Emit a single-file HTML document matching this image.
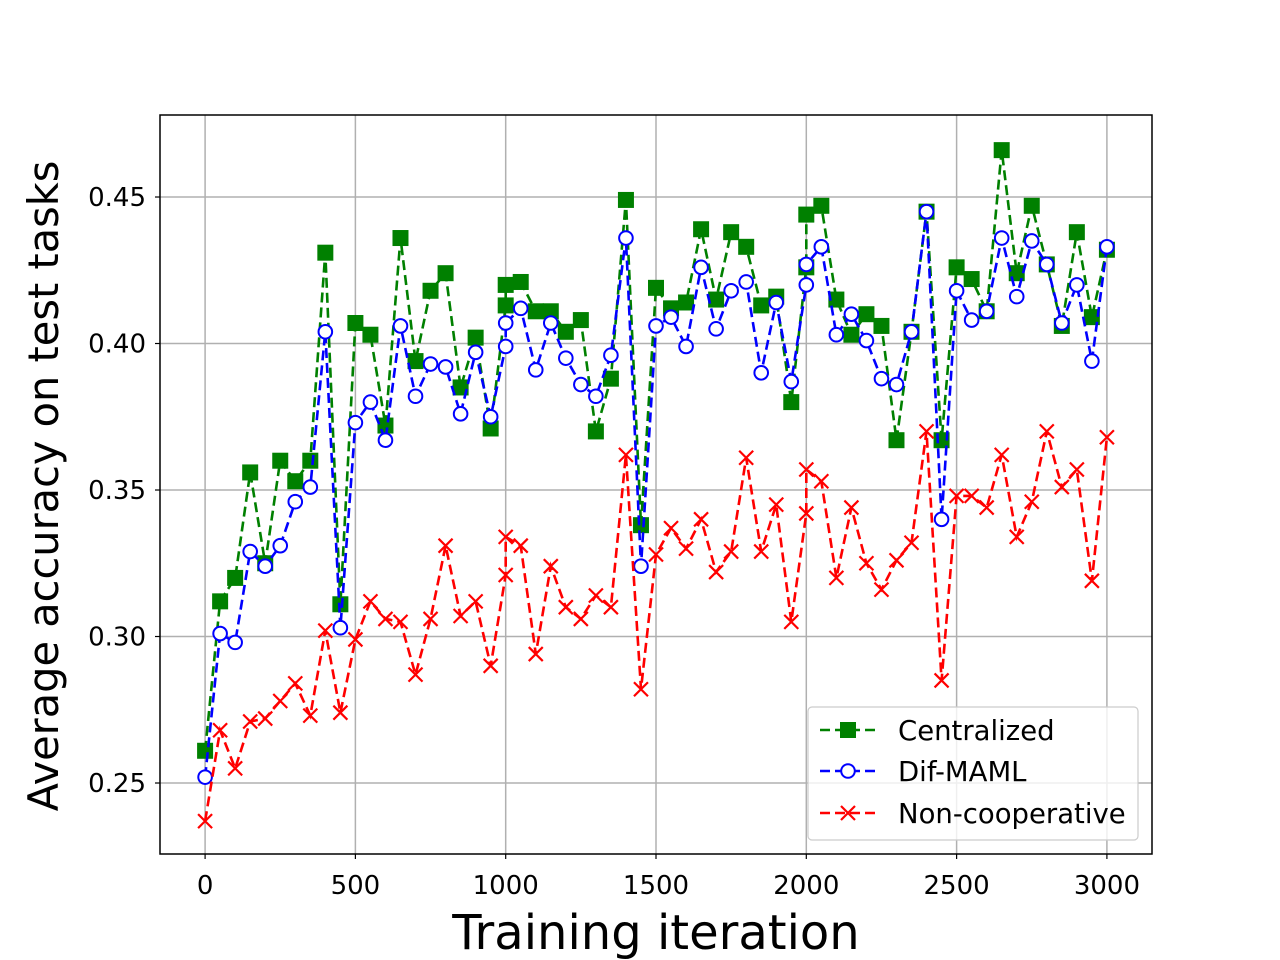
<!DOCTYPE html>
<html><head><meta charset="utf-8"><style>
body{margin:0;background:#fff;}
svg{display:block;font-family:"DejaVu Sans","Liberation Sans",sans-serif;}
</style></head><body>
<svg id="chart" width="1280" height="960" viewBox="0 0 1280 960" xmlns="http://www.w3.org/2000/svg"></svg>
<script>
const iters = [0,50,100,150,200,250,300,350,400,450,500,550,600,650,700,750,800,850,900,950,1000,1000,1050,1100,1150,1200,1250,1300,1350,1400,1450,1500,1550,1600,1650,1700,1750,1800,1850,1900,1950,2000,2000,2050,2100,2150,2200,2250,2300,2350,2400,2450,2500,2550,2600,2650,2700,2750,2800,2850,2900,2950,3000];
const centralized = [0.261,0.312,0.320,0.356,0.325,0.360,0.353,0.360,0.431,0.311,0.407,0.403,0.372,0.436,0.394,0.418,0.424,0.385,0.402,0.371,0.413,0.420,0.421,0.411,0.411,0.404,0.408,0.370,0.388,0.449,0.338,0.419,0.412,0.414,0.439,0.415,0.438,0.433,0.413,0.416,0.380,0.426,0.444,0.447,0.415,0.403,0.410,0.406,0.367,0.404,0.445,0.367,0.426,0.422,0.411,0.466,0.424,0.447,0.427,0.406,0.438,0.409,0.432];
const difMaml = [0.252,0.301,0.298,0.329,0.324,0.331,0.346,0.351,0.404,0.303,0.373,0.380,0.367,0.406,0.382,0.393,0.392,0.376,0.397,0.375,0.399,0.407,0.412,0.391,0.407,0.395,0.386,0.382,0.396,0.436,0.324,0.406,0.409,0.399,0.426,0.405,0.418,0.421,0.390,0.414,0.387,0.420,0.427,0.433,0.403,0.410,0.401,0.388,0.386,0.404,0.445,0.340,0.418,0.408,0.411,0.436,0.416,0.435,0.427,0.407,0.420,0.394,0.433];
const nonCoop = [0.237,0.268,0.255,0.271,0.272,0.278,0.284,0.273,0.302,0.274,0.299,0.312,0.306,0.305,0.287,0.306,0.331,0.307,0.312,0.290,0.321,0.334,0.331,0.294,0.324,0.310,0.306,0.314,0.310,0.362,0.282,0.328,0.337,0.330,0.340,0.322,0.329,0.361,0.329,0.345,0.305,0.342,0.357,0.353,0.320,0.344,0.325,0.316,0.326,0.332,0.370,0.285,0.348,0.348,0.344,0.362,0.334,0.346,0.370,0.351,0.357,0.319,0.368];
const xTicks = [0,500,1000,1500,2000,2500,3000];
const yTicks = [0.25,0.30,0.35,0.40,0.45];
const yTickLabels = ["0.25","0.30","0.35","0.40","0.45"];

const L=160,R=1152,T=115,B=854;
const X0=-150,X1=3150,Y0=0.22577,Y1=0.47799;
const sx=v=>L+(v-X0)/(X1-X0)*(R-L);
const sy=v=>B-(v-Y0)/(Y1-Y0)*(B-T);
const svg=document.getElementById('chart');
const NS='http://www.w3.org/2000/svg';
function mk(tag,attrs,parent){const e=document.createElementNS(NS,tag);for(const k in attrs)e.setAttribute(k,attrs[k]);(parent||svg).appendChild(e);return e;}

xTicks.forEach(t=>{const l=mk('line',{x1:sx(t),x2:sx(t),y1:T,y2:B,stroke:'#b0b0b0','stroke-width':1.5});


const tk=mk('line',{x1:sx(t),x2:sx(t),y1:B,y2:B+5,stroke:'#000','stroke-width':1.2});


const tx=mk('text',{x:sx(t),y:B+40,'text-anchor':'middle','font-size':26});tx.textContent=t;

});
yTicks.forEach((t,i)=>{const l=mk('line',{x1:L,x2:R,y1:sy(t),y2:sy(t),stroke:'#b0b0b0','stroke-width':1.5});


const tk=mk('line',{x1:L-5,x2:L,y1:sy(t),y2:sy(t),stroke:'#000','stroke-width':1.2});


const tx=mk('text',{x:L-14,y:sy(t)+9,'text-anchor':'end','font-size':26});tx.textContent=yTickLabels[i];

});

function series(vals,color,marker,name){
  const g=mk('g',{});
  
  
  const pts=vals.map((v,i)=>sx(iters[i]).toFixed(1)+','+sy(v).toFixed(1)).join(' ');
  mk('polyline',{points:pts,fill:'none',stroke:color,'stroke-width':2.6,'stroke-dasharray':'10,5'},g);
  vals.forEach((v,i)=>{const x=sx(iters[i]),y=sy(v);let m;
    if(marker==='s')m=mk('rect',{x:x-8,y:y-8,width:16,height:16,fill:color},g);
    else if(marker==='o')m=mk('circle',{cx:x,cy:y,r:6.8,fill:'#fff',stroke:color,'stroke-width':2},g);
    else m=mk('path',{d:`M${x-7},${y-7}L${x+7},${y+7}M${x-7},${y+7}L${x+7},${y-7}`,stroke:color,'stroke-width':2.2},g);
    
    });
}
series(centralized,'#008000','s','centralized');
series(difMaml,'#0000ff','o','dif-maml');
series(nonCoop,'#ff0000','x','non-cooperative');

const frame=mk('rect',{x:L,y:T,width:R-L,height:B-T,fill:'none',stroke:'#000','stroke-width':1.5});



const lg=mk('g',{});


mk('rect',{x:808,y:707,width:330,height:133,rx:4,fill:'#fff','fill-opacity':0.8,stroke:'#ccc','stroke-width':1.2},lg);
[['Centralized','#008000','s',730],['Dif-MAML','#0000ff','o',771],['Non-cooperative','#ff0000','x',813]].forEach(([lab,c,m,y])=>{
  const e=mk('g',{},lg);
  
  
  mk('line',{x1:820,x2:876,y1:y,y2:y,stroke:c,'stroke-width':2.6,'stroke-dasharray':'10,5'},e);
  const x=848;
  if(m==='s')mk('rect',{x:x-8,y:y-8,width:16,height:16,fill:c},e);
  else if(m==='o')mk('circle',{cx:x,cy:y,r:6.8,fill:'#fff',stroke:c,'stroke-width':2},e);
  else mk('path',{d:`M${x-7},${y-7}L${x+7},${y+7}M${x-7},${y+7}L${x+7},${y-7}`,stroke:c,'stroke-width':2.2},e);
  const t=mk('text',{x:898,y:y+10,'font-size':27.5},e);t.textContent=lab;
});
</script>
<svg style="position:absolute;left:0;top:0" width="1280" height="960">
<text x="656" y="949" text-anchor="middle" font-size="48" font-family="DejaVu Sans, Liberation Sans, sans-serif">Training iteration</text>
<text transform="translate(58,486) rotate(-90)" text-anchor="middle" font-size="41.5" font-family="DejaVu Sans, Liberation Sans, sans-serif">Average accuracy on test tasks</text>
</svg>
</body></html>
